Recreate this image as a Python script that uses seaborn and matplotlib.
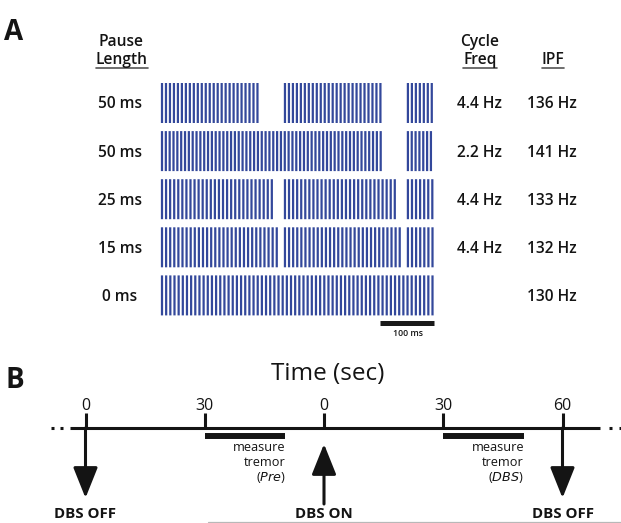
import numpy as np
import pandas as pd
import matplotlib
matplotlib.use("Agg")
import matplotlib.pyplot as plt
from matplotlib.lines import Line2D
import seaborn as sns

# ---------------- data ----------------
pause_labels = ["50 ms", "50 ms", "25 ms", "15 ms", "0 ms"]
pause_ms = [50, 50, 25, 15, 0]
cycle_freq_hz = [4.4, 2.2, 4.4, 4.4, 0]
cycle_labels = ["4.4 Hz", "2.2 Hz", "4.4 Hz", "4.4 Hz", ""]
ipf_hz = [136, 141, 133, 132, 130]
ipf_labels = ["136 Hz", "141 Hz", "133 Hz", "132 Hz", "130 Hz"]
window_ms = 502
scale_bar_ms = [403, 503]
scale_bar_label = "100 ms"

timeline_pos_s = [0, 30, 60, 90, 120]
timeline_labels = ["0", "30", "0", "30", "60"]
timeline_span_s = [-3.9, 129.4]
measure_windows_s = [(30, 50.3), (90, 110.3)]
measure_tags = ["Pre", "DBS"]
event_pos_s = [0, 60, 120]
event_labels = ["DBS OFF", "DBS ON", "DBS OFF"]
event_dir = ["down", "up", "down"]

BLUE = "#33489b"
INK = "#141414"

sns.set_style("white")
plt.rcParams["font.family"] = ["Open Sans", "DejaVu Sans"]


def pulse_times(pause, cyc, ipf, window):
    dt = 1000.0 / ipf
    if not cyc:
        return list(np.arange(0, window, dt))
    period = 1000.0 / cyc
    on = period - pause
    out = []
    start = 0.0
    while start < window:
        k = np.arange(0, on + 1.0, dt)
        t = start + k
        out.extend(t[t <= window])
        start += period
    return out


W, H = 621, 523
fig = plt.figure(figsize=(W / 100, H / 100), dpi=100)
fig.patch.set_facecolor("white")


def fx(px):
    return px / W


def fy(py):
    return 1 - py / H


# ---------------- panel A ----------------
PXMS = 0.541
X0 = 162
ROW0, ROWSP, ROWH = 103, 48.1, 40
XLIM = ((150 - X0) / PXMS, (450 - X0) / PXMS)
for i in range(len(pause_ms)):
    yc = ROW0 + ROWSP * i
    ax = fig.add_axes([fx(150), fy(yc + ROWH / 2), 300 / W, ROWH / H])
    ax.set_xlim(*XLIM)
    ax.set_ylim(0, 1)
    ax.axis("off")
    times = pulse_times(pause_ms[i], cycle_freq_hz[i], ipf_hz[i], window_ms)
    sns.rugplot(x=np.asarray(times), height=1.0, color=BLUE, linewidth=1.6,
                ax=ax, expand_margins=False, snap=False, clip_on=False)
    ax.set_xlim(*XLIM)
    ax.set_ylim(0, 1)

axS = fig.add_axes([fx(150), fy(330), 300 / W, 15 / H])
axS.set_xlim(*XLIM)
axS.set_ylim(0, 15)
axS.axis("off")
axS.plot(scale_bar_ms, [7.5, 7.5], color="#1a1a1a", lw=3.6,
         solid_capstyle="butt")

fs = 11.2
fig.text(fx(4), fy(40), "A", fontsize=20, fontweight="bold", color=INK,
         ha="left", va="baseline")
fig.text(fx(121.5), fy(46), "Pause", fontsize=fs, fontweight=600, color=INK,
         ha="center", va="baseline")
t_len = fig.text(fx(121.5), fy(63.5), "Length", fontsize=fs, fontweight=600,
                 color=INK, ha="center", va="baseline")
fig.text(fx(480), fy(46), "Cycle", fontsize=fs, fontweight=600, color=INK,
         ha="center", va="baseline")
t_freq = fig.text(fx(480), fy(63.5), "Freq", fontsize=fs, fontweight=600,
                  color=INK, ha="center", va="baseline")
t_ipf = fig.text(fx(553), fy(63.5), "IPF", fontsize=fs, fontweight=600,
                 color=INK, ha="center", va="baseline")
for i in range(len(pause_labels)):
    yb = ROW0 + ROWSP * i + 5.5
    fig.text(fx(120), fy(yb), pause_labels[i], fontsize=fs, fontweight=600,
             color=INK, ha="center", va="baseline")
    fig.text(fx(479), fy(yb), cycle_labels[i], fontsize=fs, fontweight=600,
             color=INK, ha="center", va="baseline")
    fig.text(fx(552), fy(yb), ipf_labels[i], fontsize=fs, fontweight=600,
             color=INK, ha="center", va="baseline")
fig.text(fx(408), fy(336), scale_bar_label, fontsize=6.3, fontweight=600,
         color=INK, ha="center", va="baseline")

# ---------------- panel B ----------------
PX0, PXS = 85.5, 3.975
YL = 428
axB = fig.add_axes([0, 0, 1, fy(340)])
axB.set_xlim((0 - PX0) / PXS, (W - PX0) / PXS)
axB.set_ylim(YL - 523, YL - 340)
axB.axis("off")

LW = 2.2
axB.plot(timeline_span_s, [0, 0], color=INK, lw=LW, solid_capstyle="butt")
for xd in [-8.8, -6.3, 131.6, 134.1]:
    axB.plot([xd, xd + 0.75], [0, 0], color=INK, lw=LW, solid_capstyle="butt")
axB.vlines(timeline_pos_s, 0, 15, color=INK, lw=LW)
for p, lab in zip(timeline_pos_s, timeline_labels):
    axB.text(p, YL - 410, lab, fontsize=11.5, color=INK, ha="center",
             va="baseline")
axB.text(61, YL - 380, "Time (sec)", fontsize=17.5, fontweight=500, color=INK,
         ha="center", va="baseline")
fig.text(fx(5), fy(388), "B", fontsize=20, fontweight="bold", color=INK,
         ha="left", va="baseline")

for (a, b), tag in zip(measure_windows_s, measure_tags):
    axB.plot([a, b], [-8, -8], color=INK, lw=4.3, solid_capstyle="butt")
    axB.text(b, YL - 451, "measure", fontsize=9.2, color=INK, ha="right",
             va="baseline")
    axB.text(b, YL - 466, "tremor", fontsize=9.2, color=INK, ha="right",
             va="baseline")
    axB.text(b, YL - 481, "(" + r"$\it{" + tag + "}$" + ")", fontsize=9.2,
             color=INK, ha="right", va="baseline")

for p, lab, d in zip(event_pos_s, event_labels, event_dir):
    if d == "down":
        tail, tip = 0, YL - 498
    else:
        tail, tip = YL - 504, YL - 444
    axB.annotate("", xy=(p, tip), xytext=(p, tail),
                 arrowprops=dict(arrowstyle="-|>,head_length=1.05,head_width=0.42",
                                 mutation_scale=18, lw=LW, color=INK,
                                 shrinkA=0, shrinkB=0))
    axB.text(p, YL - 518, lab, fontsize=10.8, fontweight="bold", color=INK,
             ha="center", va="baseline")

axB.plot([(208 - PX0) / PXS, (W - PX0) / PXS], [YL - 521.5] * 2,
         color="#b8b8b8", lw=0.9)

# underlines
fig.canvas.draw()
r = fig.canvas.get_renderer()
for t in [t_len, t_freq, t_ipf]:
    bb = t.get_window_extent(r)
    fig.add_artist(Line2D([bb.x0 / W, bb.x1 / W], [fy(68)] * 2,
                          transform=fig.transFigure, lw=1.2, color="#555555"))

fig.savefig("out.png", dpi=100)
